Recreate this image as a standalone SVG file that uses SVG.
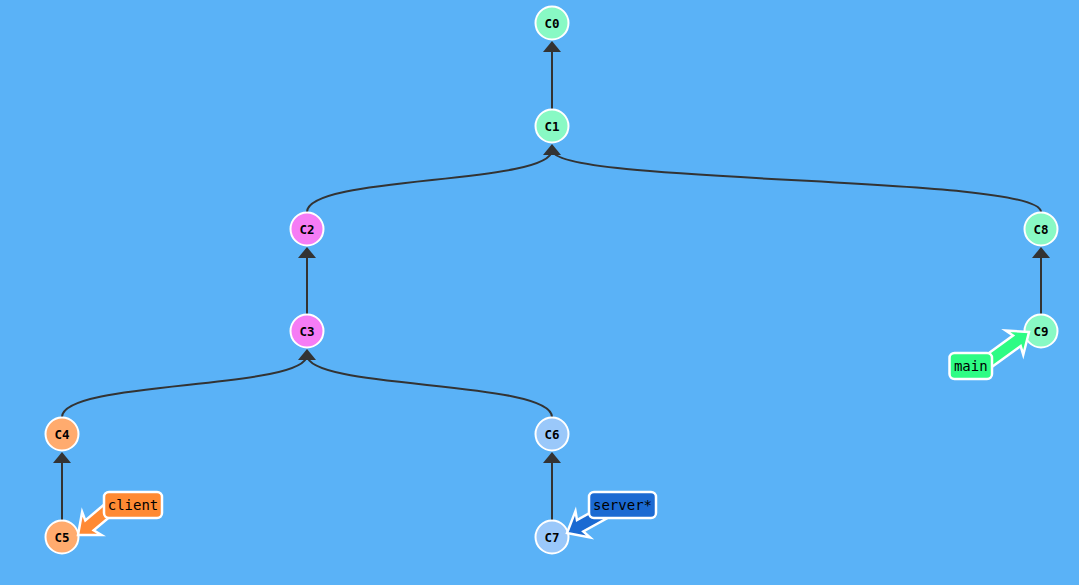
<svg xmlns="http://www.w3.org/2000/svg" width="1079" height="585" viewBox="0 0 1079 585">
<style>
.bg{fill:#5ab2f7}
.edge{fill:none;stroke:#333;stroke-width:2}
.head{fill:#333}
.node circle{stroke:#fff;stroke-width:2}
.node text{font-family:"DejaVu Sans Mono","Liberation Mono",monospace;font-weight:bold;font-size:12.5px;fill:#000;text-anchor:middle;dominant-baseline:central}
.mint{fill:#88f9c4}
.pink{fill:#f57cf5}
.orange{fill:#ffab6e}
.lblue{fill:#9ac8fa}
.branch .arr,.branch rect{stroke:#fff;stroke-width:2.5;stroke-linejoin:miter}
.branch text{font-family:"DejaVu Sans Mono","Liberation Mono",monospace;font-size:14px;fill:#000;text-anchor:middle;dominant-baseline:central}
</style>
<defs>
<polygon id="ah" points="0,0 -9,11 9,11"/>
<polygon id="barrow" points="0,0 -18,-15 -15,-6.5 -52,-6.5 -52,6.5 -15,6.5 -18,15"/>
</defs>
<rect class="bg" x="0" y="0" width="1079" height="585"/>
<g id="connectors">
<path class="edge" d="M552,109 L552,50"/>
<use href="#ah" class="head" x="552" y="41"/>
<path class="edge" d="M307,212 C307,175 552,185 552,150"/>
<path class="edge" d="M1041,212 C1041,175 552,185 552,150"/>
<use href="#ah" class="head" x="552" y="144"/>
<path class="edge" d="M307,314 L307,255"/>
<use href="#ah" class="head" x="307" y="247"/>
<path class="edge" d="M62,417 C62,380 307,390 307,355"/>
<path class="edge" d="M552,417 C552,380 307,390 307,355"/>
<use href="#ah" class="head" x="307" y="349"/>
<path class="edge" d="M62,520 L62,460"/>
<use href="#ah" class="head" x="62" y="452"/>
<path class="edge" d="M552,520 L552,460"/>
<use href="#ah" class="head" x="552" y="452"/>
<path class="edge" d="M1041,314 L1041,255"/>
<use href="#ah" class="head" x="1041" y="247"/>
</g>
<g id="C0" class="node"><circle class="mint" cx="552" cy="23" r="16.5"/><text x="552" y="23">C0</text></g>
<g id="C1" class="node"><circle class="mint" cx="552" cy="126" r="16.5"/><text x="552" y="126">C1</text></g>
<g id="C2" class="node"><circle class="pink" cx="307" cy="229" r="16.5"/><text x="307" y="229">C2</text></g>
<g id="C3" class="node"><circle class="pink" cx="307" cy="331" r="16.5"/><text x="307" y="331">C3</text></g>
<g id="C4" class="node"><circle class="orange" cx="62" cy="434" r="16.5"/><text x="62" y="434">C4</text></g>
<g id="C5" class="node"><circle class="orange" cx="62" cy="537" r="16.5"/><text x="62" y="537">C5</text></g>
<g id="C6" class="node"><circle class="lblue" cx="552" cy="434" r="16.5"/><text x="552" y="434">C6</text></g>
<g id="C7" class="node"><circle class="lblue" cx="552" cy="537" r="16.5"/><text x="552" y="537">C7</text></g>
<g id="C8" class="node"><circle class="mint" cx="1041" cy="229" r="16.5"/><text x="1041" y="229">C8</text></g>
<g id="C9" class="node"><circle class="mint" cx="1041" cy="331" r="16.5"/><text x="1041" y="331">C9</text></g>
<g id="client" class="branch">
<use href="#barrow" class="arr" fill="#ff8a33" transform="translate(78,535) rotate(140)"/>
<rect x="104" y="492" width="58" height="26" rx="5" fill="#ff8a33"/>
<text x="133" y="505">client</text>
</g>
<g id="server" class="branch">
<use href="#barrow" class="arr" fill="#1b6ad2" transform="translate(567,533) rotate(151)"/>
<rect x="589" y="492" width="67" height="26" rx="5" fill="#1b6ad2"/>
<text x="622.5" y="505">server*</text>
</g>
<g id="main" class="branch">
<use href="#barrow" class="arr" fill="#2efc84" transform="translate(1029,332) rotate(-36)"/>
<rect x="949.5" y="353" width="42.5" height="26" rx="5" fill="#2efc84"/>
<text x="970.75" y="366">main</text>
</g>
</svg>
